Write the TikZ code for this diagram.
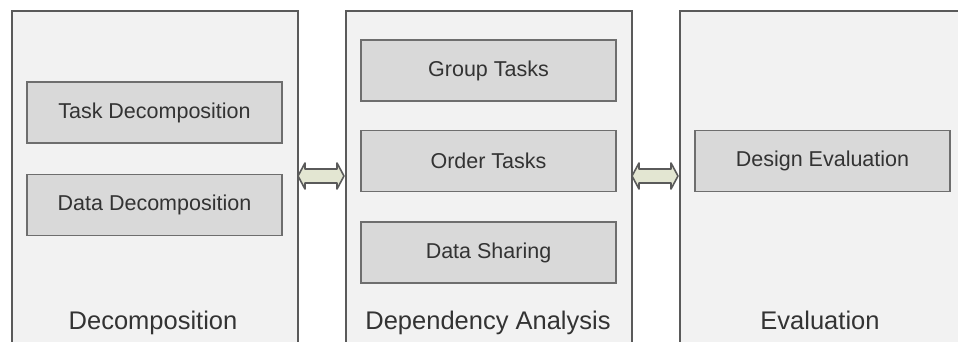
\documentclass[tikz,border=0pt]{standalone}
\usepackage{fontspec}
\setmainfont{Liberation Sans}
\definecolor{panelfill}{HTML}{F2F2F2}
\definecolor{panelline}{HTML}{5A5A5A}
\definecolor{boxfill}{HTML}{D9D9D9}
\definecolor{boxline}{HTML}{6E6E6E}
\definecolor{txt}{HTML}{333333}
\definecolor{arrfill}{HTML}{E3E6D2}
\tikzset{
  panel/.style={draw=panelline, fill=panelfill, line width=2pt, anchor=north west, inner sep=0pt},
  taskbox/.style={draw=boxline, fill=boxfill, line width=1.8pt, minimum width=255pt, minimum height=61pt, inner sep=0pt, text=txt, font=\fontsize{21.5}{25}\selectfont},
  paneltitle/.style={text=txt, anchor=base, font=\fontsize{25.5}{30}\selectfont},
  dblarrow/.style={draw=panelline, fill=arrfill, line width=1.6pt, line join=round}
}
\newcommand{\dblarr}[1]{%
  \draw[dblarrow] ($(#1)+(-23,0)$) -- ++(7,-13) -- ++(0,6) -- ++(32,0) -- ++(0,-6) -- ++(7,13)
    -- ++(-7,13) -- ++(0,-6) -- ++(-32,0) -- ++(0,6) -- cycle;}
\usetikzlibrary{calc}
\begin{document}
\begin{tikzpicture}[x=1pt,y=-1pt]
\useasboundingbox (0,0) rectangle (958,342);
\fill[white] (0,0) rectangle (958,342);
\clip (0,0) rectangle (958,342);
\node[panel, minimum width=286pt, minimum height=360pt] (p1) at (11,10) {};
\node[panel, minimum width=286pt, minimum height=360pt] (p2) at (345,10) {};
\node[panel, minimum width=300pt, minimum height=360pt] (p3) at (679,10) {};
\node[taskbox] (t1) at (154.5,112.5) {Task Decomposition};
\node[taskbox] (t2) at (154.5,205) {Data Decomposition};
\node[taskbox] (g1) at (488.5,70.5) {Group Tasks};
\node[taskbox] (g2) at (488.5,161) {Order Tasks};
\node[taskbox] (g3) at (488.5,252.5) {Data Sharing};
\node[taskbox] (e1) at (822.5,161) {Design Evaluation};
\node[paneltitle] (l1) at (153,329) {Decomposition};
\node[paneltitle] (l2) at (488,329) {Dependency Analysis};
\node[paneltitle] (l3) at (820,329) {Evaluation};
\coordinate (a1) at (321,176);
\coordinate (a2) at (655,176);
\dblarr{a1}
\dblarr{a2}
\end{tikzpicture}
\end{document}
